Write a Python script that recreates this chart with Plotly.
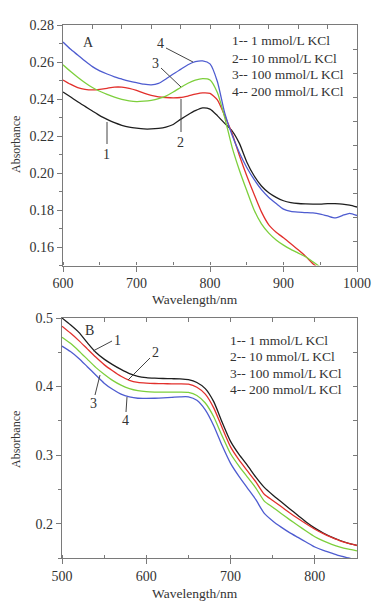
import numpy as np
import plotly.graph_objects as go

# ---------------- data ----------------
top_wl = list(range(600, 1001, 10))
top_1mM = [0.2438, 0.2412, 0.2385, 0.2360, 0.2335, 0.2310, 0.2290, 0.2272, 0.2258, 0.2248,
           0.2242, 0.2238, 0.2238, 0.2241, 0.2248, 0.2262, 0.2290, 0.2315, 0.2337, 0.2352,
           0.2345, 0.2310, 0.2268, 0.2228, 0.2160, 0.2060, 0.1985, 0.1930, 0.1893, 0.1868,
           0.1850, 0.1840, 0.1835, 0.1833, 0.1832, 0.1832, 0.1834, 0.1834, 0.1832, 0.1826,
           0.1816]
top_10mM = [0.2503, 0.2480, 0.2462, 0.2452, 0.2449, 0.2452, 0.2458, 0.2464, 0.2464, 0.2458,
            0.2447, 0.2432, 0.2420, 0.2412, 0.2408, 0.2406, 0.2408, 0.2416, 0.2426, 0.2433,
            0.2430, 0.2395, 0.2310, 0.2215, 0.2095, 0.1985, 0.1885, 0.1790, 0.1720, 0.1680,
            0.1650, 0.1618, 0.1585, 0.1550, 0.1510, 0.1478, None, None, None, None, None]
top_100mM = [0.2585, 0.2550, 0.2518, 0.2488, 0.2462, 0.2442, 0.2425, 0.2410, 0.2398, 0.2390,
             0.2386, 0.2388, 0.2393, 0.2402, 0.2416, 0.2438, 0.2462, 0.2485, 0.2502, 0.2510,
             0.2503, 0.2435, 0.2300, 0.2140, 0.2015, 0.1905, 0.1800, 0.1725, 0.1675, 0.1638,
             0.1610, 0.1587, 0.1567, 0.1547, 0.1520, 0.1492, None, None, None, None, None]
top_200mM = [0.2708, 0.2670, 0.2638, 0.2605, 0.2575, 0.2552, 0.2535, 0.2520, 0.2508, 0.2497,
             0.2488, 0.2480, 0.2476, 0.2484, 0.2508, 0.2535, 0.2560, 0.2585, 0.2602, 0.2606,
             0.2590, 0.2495, 0.2325, 0.2205, 0.2110, 0.2030, 0.1965, 0.1910, 0.1868, 0.1835,
             0.1805, 0.1792, 0.1788, 0.1786, 0.1784, 0.1778, 0.1768, 0.1757, 0.1770, 0.1782,
             0.1770]

bot_wl = list(range(500, 851, 10))
bot_1mM = [0.500, 0.490, 0.479, 0.464, 0.450, 0.440, 0.432, 0.425, 0.419, 0.415,
           0.4130, 0.4122, 0.4118, 0.4115, 0.4112, 0.4100, 0.4060, 0.3970, 0.3780, 0.3480,
           0.3200, 0.3010, 0.2850, 0.2680, 0.2530, 0.2420, 0.2320, 0.2220, 0.2120, 0.2020,
           0.1935, 0.1865, 0.1805, 0.1755, 0.1715, 0.1685]
bot_10mM = [0.488, 0.478, 0.467, 0.455, 0.443, 0.432, 0.423, 0.415, 0.409, 0.406,
            0.4050, 0.4045, 0.4042, 0.4040, 0.4040, 0.4035, 0.3990, 0.3890, 0.3690, 0.3400,
            0.3120, 0.2930, 0.2770, 0.2610, 0.2430, 0.2340, 0.2250, 0.2160, 0.2075, 0.1995,
            0.1920, 0.1855, 0.1800, 0.1750, 0.1712, 0.1682]
bot_100mM = [0.472, 0.463, 0.452, 0.440, 0.428, 0.418, 0.409, 0.402, 0.397, 0.394,
             0.3925, 0.3920, 0.3920, 0.3920, 0.3920, 0.3915, 0.3870, 0.3760, 0.3560, 0.3280,
             0.3020, 0.2840, 0.2680, 0.2520, 0.2330, 0.2240, 0.2150, 0.2060, 0.1975, 0.1890,
             0.1810, 0.1750, 0.1700, 0.1660, 0.1630, 0.1605]
bot_200mM = [0.459, 0.451, 0.441, 0.429, 0.417, 0.405, 0.396, 0.389, 0.385, 0.383,
             0.3828, 0.3830, 0.3835, 0.3842, 0.3850, 0.3850, 0.3800, 0.3660, 0.3430, 0.3140,
             0.2880, 0.2690, 0.2520, 0.2350, 0.2150, 0.2040, 0.1950, 0.1870, 0.1800, 0.1730,
             0.1660, 0.1610, 0.1570, 0.1530, 0.1500, 0.1470]

legend_labels = ["1-- 1 mmol/L KCl", "2-- 10 mmol/L KCl", "3-- 100 mmol/L KCl", "4-- 200 mmol/L KCl"]
curve_numbers = ["1", "2", "3", "4"]
colors = ["#1e1e1e", "#e2302c", "#7dcf3c", "#4e5cd0"]

top_xrange = [600, 1000]
top_yrange = [0.15, 0.28]
bot_xrange = [500, 850]
bot_yrange = [0.15, 0.5]

# ---------------- layout helpers ----------------
# the page body has an 8px default margin, so the figure is drawn 8px in from the window corner
OFF = 8
W, H = 387 - OFF, 615 - OFF
def PX(x): return (x - OFF) / W
def PY(y): return 1 - (y - OFF) / H

FONT = "Liberation Serif"
TXT = "#333333"
AX = "#7a7a7a"

top_dom_x = [PX(63), PX(357)]
top_dom_y = [PY(265.5), PY(25)]
bot_dom_x = [PX(62), PX(357)]
bot_dom_y = [PY(558), PY(318)]

fig = go.Figure()

for ys, c in zip([top_1mM, top_10mM, top_100mM, top_200mM], colors):
    fig.add_trace(go.Scatter(x=top_wl, y=ys, mode="lines", line=dict(color=c, width=1.3, shape="spline", smoothing=0.6),
                             xaxis="x", yaxis="y", showlegend=False, hoverinfo="skip", connectgaps=False))
for ys, c in zip([bot_1mM, bot_10mM, bot_100mM, bot_200mM], colors):
    fig.add_trace(go.Scatter(x=bot_wl, y=ys, mode="lines", line=dict(color=c, width=1.3, shape="spline", smoothing=0.6),
                             xaxis="x2", yaxis="y2", showlegend=False, hoverinfo="skip"))

# invisible traces to activate overlay (frame) axes
for xa, ya, xv, yv in [("x3", "y", 800, 0.2), ("x", "y3", 800, 0.2), ("x4", "y2", 700, 0.3), ("x2", "y4", 700, 0.3)]:
    fig.add_trace(go.Scatter(x=[xv], y=[yv], mode="markers", marker=dict(opacity=0), xaxis=xa, yaxis=ya,
                             showlegend=False, hoverinfo="skip"))

tickfont = dict(family=FONT, size=14, color=TXT)
base_x = dict(showline=True, linecolor=AX, linewidth=1.3, ticks="outside", ticklen=5, tickcolor=AX, tickwidth=1.2,
              showgrid=False, zeroline=False, tickfont=tickfont, dtick=100, automargin=False,
              minor=dict(ticks="inside", dtick=50, ticklen=3, tickcolor=AX, tickwidth=1.2, showgrid=False))
base_y = dict(showline=True, linecolor=AX, linewidth=1.3, ticks="outside", ticklen=5, tickcolor=AX, tickwidth=1.2,
              showgrid=False, zeroline=False, tickfont=tickfont, automargin=False)
frame = dict(showline=True, linecolor=AX, linewidth=1.3, ticks="inside", ticklen=4, tickcolor=AX,
             showticklabels=False, showgrid=False, zeroline=False, automargin=False)

fig.update_layout(
    width=W, height=H, margin=dict(l=0, r=0, t=0, b=0),
    paper_bgcolor="white", plot_bgcolor="white",
    xaxis=dict(base_x, domain=top_dom_x, range=top_xrange, anchor="y", tick0=600),
    yaxis=dict(base_y, domain=top_dom_y, range=top_yrange, anchor="x", tick0=0.16, dtick=0.02, tickformat=".2f",
               minor=dict(ticks="outside", dtick=0.01, ticklen=3, tickcolor=AX, tickwidth=1.2, showgrid=False)),
    xaxis2=dict(base_x, domain=bot_dom_x, range=bot_xrange, anchor="y2", tick0=500),
    yaxis2=dict(base_y, domain=bot_dom_y, range=bot_yrange, anchor="x2", tick0=0.2, dtick=0.1, tickformat=".1f",
                minor=dict(ticks="outside", dtick=0.05, ticklen=3, tickcolor=AX, tickwidth=1.2, showgrid=False)),
    xaxis3=dict(frame, overlaying="x", side="top", anchor="y", range=top_xrange,
                tickvals=list(np.linspace(top_xrange[0], top_xrange[1], 11))),
    yaxis3=dict(frame, overlaying="y", side="right", anchor="x", range=top_yrange,
                tickvals=list(np.linspace(top_yrange[0], top_yrange[1], 11))),
    xaxis4=dict(frame, overlaying="x2", side="top", anchor="y2", range=bot_xrange,
                tickvals=list(np.arange(550, 850, 50))),
    yaxis4=dict(frame, overlaying="y2", side="right", anchor="x2", range=bot_yrange,
                tickvals=list(np.arange(0.2, 0.5, 0.05))),
)

ann = []
def text(x, y, s, size=14, angle=0, xanchor="center"):
    ann.append(dict(x=PX(x), y=PY(y), xref="paper", yref="paper", text=s, showarrow=False, textangle=angle,
                    xanchor=xanchor, yanchor="middle", font=dict(family=FONT, size=size, color=TXT)))

# axis titles
text(195, 299, "Wavelength/nm", 13.5)
text(195, 593, "Wavelength/nm", 13.5)
text(16, 145, "Absorbance", 12, angle=-90)
text(16, 440, "Absorbance", 12, angle=-90)

# legends
for i, s in enumerate(legend_labels):
    text(230, [41, 58, 74, 91][i], s, 13.5, xanchor="left")
    text(228, [340, 356, 373, 389][i], s, 13.5, xanchor="left")

# panel letters
text(88, 42, "A", 14)
text(89, 330, "B", 14)

# curve numbers, top panel
text(106, 155, curve_numbers[0])
text(180, 142, curve_numbers[1])
text(155, 63, curve_numbers[2])
text(160, 43, curve_numbers[3])
# curve numbers, bottom panel
text(117, 340, curve_numbers[0])
text(155, 352, curve_numbers[1])
text(93, 403, curve_numbers[2])
text(125, 420, curve_numbers[3])
fig.update_layout(annotations=ann)

shapes = []
def leader(x0, y0, x1, y1):
    shapes.append(dict(type="line", xref="paper", yref="paper", x0=PX(x0), y0=PY(y0), x1=PX(x1), y1=PY(y1),
                       line=dict(color="#444444", width=1)))
leader(107, 144, 107, 122)
leader(181, 132, 181, 99)
leader(161, 68, 181, 87)
leader(166, 48, 193, 62)
leader(112, 341, 93, 351)
leader(150, 358, 128, 380)
leader(95, 395, 100, 375)
leader(126, 412, 127, 397)
fig.update_layout(shapes=shapes)

fig.write_html("out.html")
